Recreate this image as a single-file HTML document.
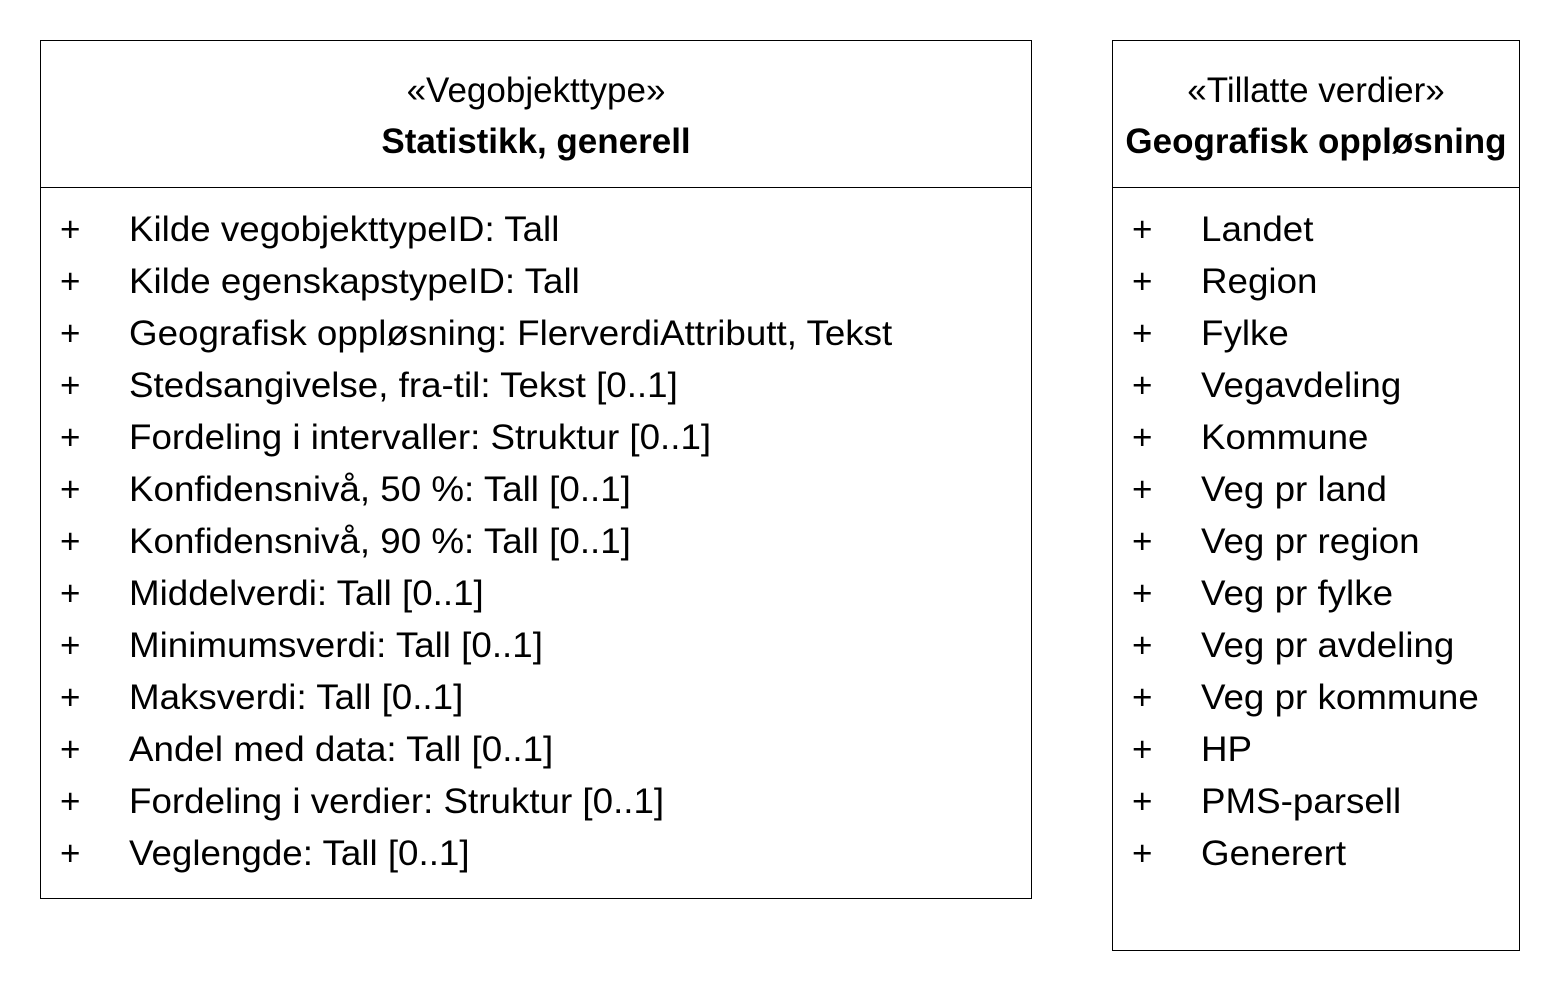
<!DOCTYPE html>
<html><head><meta charset="utf-8"><style>
html,body{margin:0;padding:0;background:#fff;}
body{width:1560px;height:992px;position:relative;overflow:hidden;font-family:"Liberation Sans",sans-serif;color:#000;}
.box{position:absolute;border:1px solid #000;box-sizing:border-box;}
.hd{position:absolute;left:0;right:0;text-align:center;font-size:35px;line-height:40px;}
.div{position:absolute;left:0;right:0;top:146px;border-top:1px solid #000;}
.row{position:absolute;font-size:35px;line-height:40px;white-space:nowrap;transform:scaleX(1.05);transform-origin:0 0;}
.p{position:absolute;font-size:35px;line-height:40px;}
</style></head><body>
<div class="box" style="left:40px;top:40px;width:992px;height:859px;">
 <div class="hd" style="top:30px;">«Vegobjekttype»</div>
 <div class="hd" style="top:81px;font-weight:bold;">Statistikk, generell</div>
 <div class="div"></div>
</div>
<div class="box" style="left:1112px;top:40px;width:408px;height:911px;">
 <div class="hd" style="top:30px;">«Tillatte verdier»</div>
 <div class="hd" style="top:81px;font-weight:bold;">Geografisk oppløsning</div>
 <div class="div"></div>
</div>
<div id="L"></div>
<script>
var L=["Kilde vegobjekttypeID: Tall","Kilde egenskapstypeID: Tall","Geografisk oppløsning: FlerverdiAttributt, Tekst","Stedsangivelse, fra-til: Tekst [0..1]","Fordeling i intervaller: Struktur [0..1]","Konfidensnivå, 50 %: Tall [0..1]","Konfidensnivå, 90 %: Tall [0..1]","Middelverdi: Tall [0..1]","Minimumsverdi: Tall [0..1]","Maksverdi: Tall [0..1]","Andel med data: Tall [0..1]","Fordeling i verdier: Struktur [0..1]","Veglengde: Tall [0..1]"];
var R=["Landet","Region","Fylke","Vegavdeling","Kommune","Veg pr land","Veg pr region","Veg pr fylke","Veg pr avdeling","Veg pr kommune","HP","PMS-parsell","Generert"];
var h="";
function add(arr,px,tx){for(var i=0;i<arr.length;i++){var t=210+i*52;h+='<div class="p" style="left:'+px+'px;top:'+t+'px">+</div><div class="row" style="left:'+tx+'px;top:'+t+'px">'+arr[i]+'</div>';}}
add(L,60,129);add(R,1132,1201);
document.getElementById("L").innerHTML=h;
</script>
</body></html>
